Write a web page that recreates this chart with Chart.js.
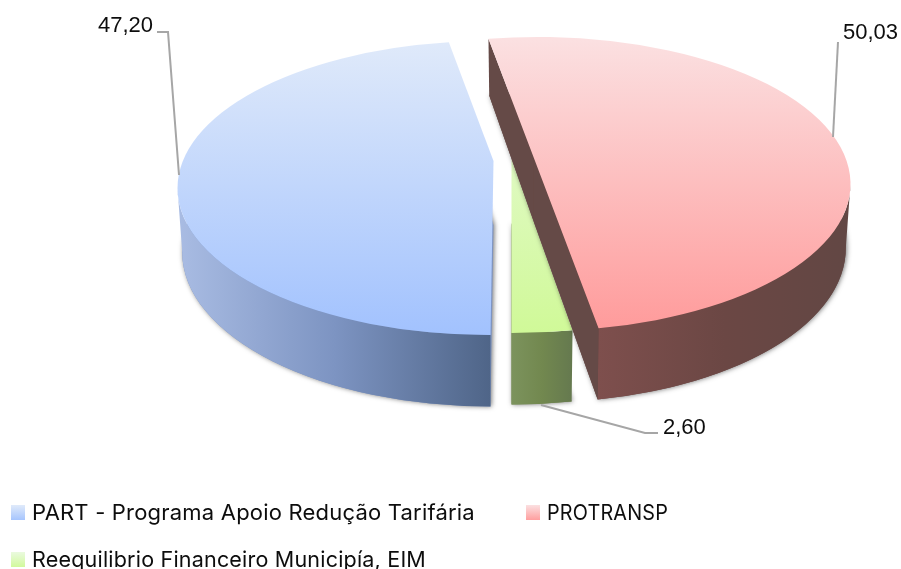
<!DOCTYPE html>
<html>
<head>
<meta charset="utf-8">
<title>Pie 3D</title>
<script src="https://cdn.jsdelivr.net/npm/chart.js@4"></script>
<style>
    html, body { margin: 0; padding: 0; background: #fff; overflow: hidden; }
    #wrap { width: 901px; height: 569px; }
</style>
</head>
<body>
<div id="wrap"><canvas id="pieChart"></canvas></div>
<script>
const categories = ['PART - Programa Apoio Redução Tarifária', 'PROTRANSP', 'Reequilibrio Financeiro Municipía, EIM'];
const seriesValues = [47.20, 50.03, 2.60];

const topColors = [['#e0eafa', '#a2c2fe'], ['#fbe0e1', '#ff9a9a'], ['#eafadf', '#d0f998']];
const wallColors = [['#a9bce3', '#7d94c2', '#4f6588'], ['#7e4f4d', '#6b4744', '#624744'], ['#7c935d', '#72884f', '#65794f']];
const edgeColors = [null, '#654a47', null];

// reparto de las porciones (pixeles)
const sliceShift = [{ x: -21, y: 1 }, { x: 26, y: -3 }, { x: 0, y: -1 }];
const apexNudge = [3, -4, 0];
const drawOrder = [0, 2, 1];
const squash = 0.47;
const perspectiveBack = [0.22, 0.08, 0.18];
const perspectiveFront = 0.2;
const apexLift = 27;
const depth = { shift: 64, rx: 0.985, ry: 1.05 };

const valueLabels = [
    { text: 0, x: 153, y: 26, align: 'right', line: [[157, 32], [168, 32], [179, 175]] },
    { text: 1, x: 843, y: 33, align: 'left', line: [[838, 42], [833, 137]] },
    { text: 2, x: 663, y: 428, align: 'left', line: [[541, 405], [645, 433], [658, 433]] }
];
const legendSpots = [{ x: 11, y: 513, w: 443 }, { x: 526, y: 513, w: 121 }, { x: 11, y: 560, w: 394 }];

function faceGradient(chart, i) {
    const area = chart.chartArea;
    const r = 313 * squash;
    const cy = area ? (area.top + area.bottom) / 2 : 187;
    const g = chart.ctx.createLinearGradient(0, cy - r, 0, cy + r);
    g.addColorStop(0, topColors[i][0]);
    g.addColorStop(1, topColors[i][1]);
    return g;
}

function wallGradient(ctx, i, x0, x1) {
    const g = ctx.createLinearGradient(x0, 0, x1, 0);
    wallColors[i].forEach((c, n) => g.addColorStop(n / (wallColors[i].length - 1), c));
    return g;
}

// angulo del arco -> angulo sobre la elipse, con la perspectiva (lo de atras se cierra, lo de delante se abre)
function projectAngle(a, i) {
    const s = Math.sin(a);
    const p = s >= 0 ? perspectiveFront : perspectiveBack[i];
    const u = Math.max(-1, Math.min(1, Math.cos(a) * (1 + p * s)));
    const t = s >= 0 ? Math.acos(u) : -Math.acos(u);
    return t + Math.round((a - t) / (2 * Math.PI)) * 2 * Math.PI;
}

function drawSlice(chart, i) {
    const ctx = chart.ctx;
    const arc = chart.getDatasetMeta(0).data[i];
    const a0 = projectAngle(arc.startAngle, i), a1 = projectAngle(arc.endAngle, i);
    const R = arc.outerRadius;
    const cx = arc.x + sliceShift[i].x;
    const cy = arc.y + sliceShift[i].y;
    const by = cy + depth.shift;
    const rx = R, ry = R * squash;
    const brx = R * depth.rx, bry = ry * depth.ry;
    const apex = [cx + apexNudge[i], cy - apexLift];
    const bottomApex = [cx + apexNudge[i], by - apexLift];
    const bot = a => [cx + brx * Math.cos(a), by + bry * Math.sin(a)];
    const top = a => [cx + rx * Math.cos(a), cy + ry * Math.sin(a)];

    // cara inferior con la sombra
    ctx.save();
    ctx.shadowColor = 'rgba(0,0,0,0.55)';
    ctx.shadowBlur = 5;
    ctx.shadowOffsetX = 1;
    ctx.fillStyle = wallColors[i][1];
    ctx.beginPath();
    ctx.moveTo(bottomApex[0], bottomApex[1]);
    ctx.ellipse(cx, by, brx, bry, 0, a0, a1);
    ctx.closePath();
    ctx.fill();
    ctx.restore();

    // pared curva: solo el tramo de delante
    const turn = 2 * Math.PI;
    const frac = ((a0 % turn) + turn) % turn;
    const wallStart = frac > Math.PI ? a0 + turn - frac : a0;
    const wallEnd = Math.min(a1, wallStart - (wallStart % turn + turn) % turn + Math.PI);
    const wallFrom = [cx - rx, top(a1)[0], top(a1)[0]][i];
    const wallTo = [top(a0)[0], cx + rx, top(a0)[0]][i];
    ctx.fillStyle = wallGradient(ctx, i, wallFrom, wallTo);
    ctx.beginPath();
    ctx.ellipse(cx, cy, rx, ry, 0, wallStart, wallEnd);
    ctx.ellipse(cx, by, brx, bry, 0, wallEnd, wallStart, true);
    ctx.closePath();
    ctx.fill();

    // paredes rectas
    if (edgeColors[i]) {
        ctx.fillStyle = edgeColors[i];
        [a0, a1].forEach(a => {
            ctx.beginPath();
            ctx.moveTo(apex[0], apex[1]);
            ctx.lineTo(...top(a));
            ctx.lineTo(...bot(a));
            ctx.lineTo(bottomApex[0], bottomApex[1]);
            ctx.closePath();
            ctx.fill();
        });
    }

    // cara superior, con los angulos y el color que resuelve el arco de Chart.js
    ctx.fillStyle = arc.options.backgroundColor;
    ctx.beginPath();
    ctx.moveTo(apex[0], apex[1]);
    ctx.ellipse(cx, cy, rx, ry, 0, a0, a1);
    ctx.closePath();
    ctx.fill();
}

const pie3dPlugin = {
    id: 'pie3d',
    beforeDatasetsDraw(chart) {
        drawOrder.forEach(i => drawSlice(chart, i));
        return false;
    },
    afterDraw(chart) {
        const ctx = chart.ctx;
        ctx.save();
        ctx.strokeStyle = '#a6a6a6';
        ctx.lineWidth = 2;
        ctx.fillStyle = '#0d0d0d';
        ctx.textBaseline = 'middle';
        ctx.font = '22px "Liberation Sans", Arial, sans-serif';
        valueLabels.forEach(lbl => {
            ctx.beginPath();
            lbl.line.forEach((p, n) => n ? ctx.lineTo(p[0], p[1]) : ctx.moveTo(p[0], p[1]));
            ctx.stroke();
            ctx.textAlign = lbl.align;
            ctx.fillText(seriesValues[lbl.text].toFixed(2).replace('.', ','), lbl.x, lbl.y);
        });

        // leyenda
        ctx.textAlign = 'left';
        ctx.font = '22px Inter, sans-serif';
        ctx.letterSpacing = '0.2px';
        categories.forEach((name, i) => {
            const s = legendSpots[i];
            const g = ctx.createLinearGradient(0, s.y - 8, 0, s.y + 8);
            g.addColorStop(0, topColors[i][0]);
            g.addColorStop(1, topColors[i][1]);
            ctx.fillStyle = g;
            ctx.fillRect(s.x, s.y - 8, 14, 15);
            ctx.fillStyle = '#0d0d0d';
            ctx.fillText(name, s.x + 21, s.y, s.w);
        });
        ctx.restore();
    }
};

new Chart(document.getElementById('pieChart'), {
    type: 'pie',
    data: {
        labels: categories,
        datasets: [{
            data: seriesValues,
            borderWidth: 0,
            clip: false,
            backgroundColor: ctx => faceGradient(ctx.chart, ctx.dataIndex)
        }]
    },
    options: {
        responsive: true,
        maintainAspectRatio: false,
        animation: false,
        rotation: 180,
        radius: 313,
        layout: { padding: { left: 122, bottom: 195 } },
        plugins: {
            legend: { display: false },
            tooltip: { enabled: false }
        }
    },
    plugins: [pie3dPlugin]
});
</script>
</body>
</html>
